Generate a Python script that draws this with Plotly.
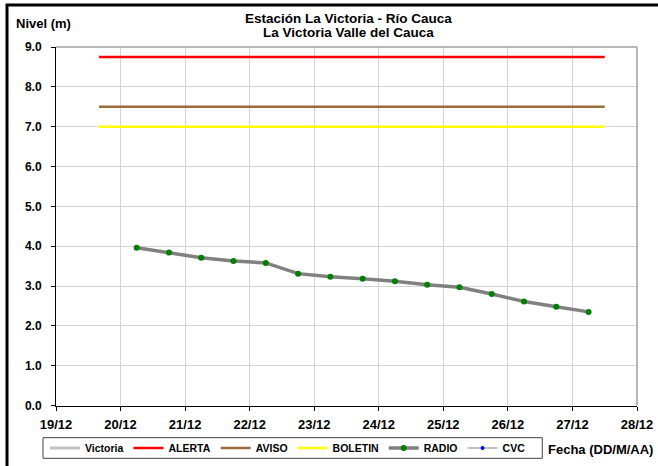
import plotly.graph_objects as go

# ---- data ----
radio_times = [
    "2011-12-20 06:00", "2011-12-20 18:00", "2011-12-21 06:00", "2011-12-21 18:00",
    "2011-12-22 06:00", "2011-12-22 18:00", "2011-12-23 06:00", "2011-12-23 18:00",
    "2011-12-24 06:00", "2011-12-24 18:00", "2011-12-25 06:00", "2011-12-25 18:00",
    "2011-12-26 06:00", "2011-12-26 18:00", "2011-12-27 06:00",
]
radio_levels = [3.96, 3.84, 3.71, 3.63, 3.58, 3.31, 3.23, 3.18, 3.12, 3.03, 2.97, 2.80, 2.61, 2.48, 2.35]

threshold_times = ["2011-12-19 16:00", "2011-12-27 12:00"]
alerta_level = [8.75, 8.75]
aviso_level = [7.5, 7.5]
boletin_level = [7.0, 7.0]

x_range = ["2011-12-19 00:00", "2011-12-28 00:00"]
y_range = [0, 9]

FONT = "Liberation Sans, Arial, sans-serif"
W, H = 658, 466


def fx(px):
    return px / W


def fy(py):
    return 1 - py / H


fig = go.Figure()
fig.add_trace(go.Scatter(x=[None], y=[None], name="Victoria", mode="lines",
                         line=dict(color="#C0C0C0", width=3)))
fig.add_trace(go.Scatter(x=threshold_times, y=alerta_level, name="ALERTA", mode="lines",
                         line=dict(color="#FF0000", width=2.5)))
fig.add_trace(go.Scatter(x=threshold_times, y=aviso_level, name="AVISO", mode="lines",
                         line=dict(color="#9C6B3C", width=2.5)))
fig.add_trace(go.Scatter(x=threshold_times, y=boletin_level, name="BOLETIN", mode="lines",
                         line=dict(color="#FFFF00", width=2.5)))
fig.add_trace(go.Scatter(x=radio_times, y=radio_levels, name="RADIO", mode="lines+markers",
                         line=dict(color="#808080", width=3.5),
                         marker=dict(color="#008000", size=6)))
fig.add_trace(go.Scatter(x=[None], y=[None], name="CVC", mode="lines+markers",
                         line=dict(color="#C0C0C0", width=2),
                         marker=dict(color="#0000FF", size=4)))

fig.update_layout(
    width=W, height=H,
    margin=dict(l=0, r=0, t=0, b=0, pad=0, autoexpand=False),
    paper_bgcolor="white", plot_bgcolor="white",
    font=dict(family=FONT, color="black", size=12),
    showlegend=True,
    legend=dict(orientation="h", x=fx(45), xanchor="left", y=fy(448), yanchor="middle",
                borderwidth=0, bgcolor="rgba(0,0,0,0)",
                font=dict(family=FONT, size=10.5, weight="bold"),
                traceorder="normal"),
    xaxis=dict(domain=[fx(56), fx(637)],
               type="date", range=x_range, tick0="2011-12-19", dtick=86400000,
               tickformat="%d/%m", ticks="outside", ticklen=4, tickcolor="black",
               showline=True, linecolor="black", linewidth=1,
               showgrid=True, gridcolor="#D4D4D4", gridwidth=1, zeroline=False,
               ticklabelstandoff=3, automargin=False,
               tickfont=dict(family=FONT, size=13, weight="bold")),
    yaxis=dict(domain=[fy(405.5), fy(47)],
               range=y_range, dtick=1, tickformat=".1f", ticks="outside", ticklen=4,
               tickcolor="black", showline=True, linecolor="black", linewidth=1,
               showgrid=True, gridcolor="#D4D4D4", gridwidth=1, zeroline=False,
               ticklabelstandoff=7, automargin=False,
               tickfont=dict(family=FONT, size=12, weight="bold")),
    shapes=[
        dict(type="line", xref="x domain", yref="y domain", x0=0, x1=1, y0=1, y1=1,
             line=dict(color="#A0A0A0", width=1.5)),
        dict(type="line", xref="x domain", yref="y domain", x0=1, x1=1, y0=0, y1=1,
             line=dict(color="#A0A0A0", width=1.5)),
        # outer chart frame
        dict(type="rect", xref="paper", yref="paper", x0=fx(7), x1=1.05, y0=-0.05, y1=fy(5),
             line=dict(color="black", width=3)),
        # legend frame
        dict(type="rect", xref="paper", yref="paper", x0=fx(43), x1=fx(542.3),
             y0=fy(458.3), y1=fy(437.7),
             line=dict(color="#404040", width=1)),
    ],
    annotations=[
        dict(text="Estación La Victoria - Río Cauca", xref="paper", yref="paper",
             x=fx(348), y=fy(18), xanchor="center", yanchor="middle", showarrow=False,
             font=dict(family=FONT, size=13.5, weight="bold")),
        dict(text="La Victoria Valle del Cauca", xref="paper", yref="paper",
             x=fx(348), y=fy(33), xanchor="center", yanchor="middle", showarrow=False,
             font=dict(family=FONT, size=13.5, weight="bold")),
        dict(text="Nivel (m)", xref="paper", yref="paper",
             x=fx(14), y=fy(23), xanchor="left", yanchor="middle", showarrow=False,
             font=dict(family=FONT, size=13, weight="bold")),
        dict(text="Fecha (DD/M/AA)", xref="paper", yref="paper",
             x=fx(655), y=fy(449), xanchor="right", yanchor="middle", showarrow=False,
             font=dict(family=FONT, size=13, weight="bold")),
    ],
)

fig.write_html("out.html", config={"displayModeBar": False},
               post_script="document.body.style.margin='0px';")
